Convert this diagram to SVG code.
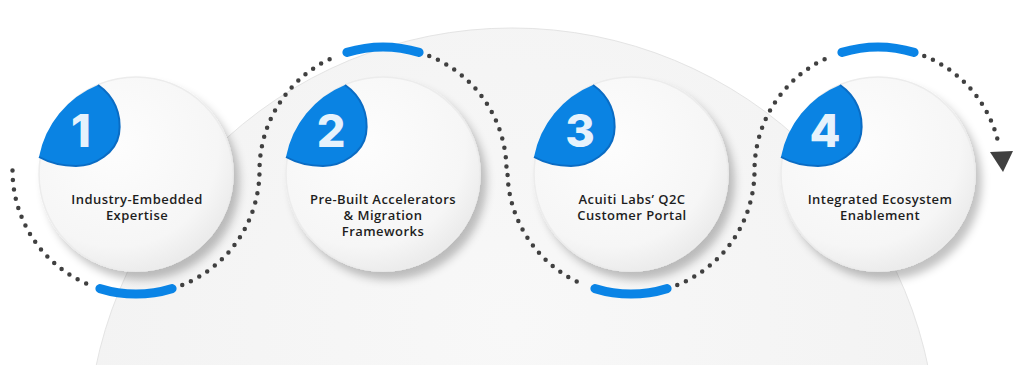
<svg xmlns="http://www.w3.org/2000/svg" width="1024" height="365" viewBox="0 0 1024 365">
  <defs>
    <radialGradient id="globeGrad" cx="0.5" cy="0.35" r="0.6">
      <stop offset="0" stop-color="#f8f8f8"/>
      <stop offset="1" stop-color="#f2f2f2"/>
    </radialGradient>
    <radialGradient id="discGrad" cx="0.4" cy="0.35" r="0.7">
      <stop offset="0" stop-color="#fdfdfd"/>
      <stop offset="0.75" stop-color="#f6f6f6"/>
      <stop offset="1" stop-color="#e9e9e9"/>
    </radialGradient>
    <filter id="discShadow" x="-30%" y="-30%" width="170%" height="170%">
      <feDropShadow dx="6" dy="8" stdDeviation="4" flood-color="#000" flood-opacity="0.24"/>
    </filter>
    <g id="disc">
      <circle r="97" fill="url(#discGrad)" stroke="#ececec" stroke-width="1.5" filter="url(#discShadow)"/>
      <path class="cap" d="M -38 -89 C -22 -78 -14 -60 -17 -40 C -20 -22 -40 -8 -60 -8 C -75 -8 -88 -12 -97 -17 A 97 97 0 0 1 -38 -89 Z"/>
      <path class="capEdge" d="M -38 -89 C -22 -78 -14 -60 -17 -40 C -20 -22 -40 -8 -60 -8 C -75 -8 -88 -12 -97 -17"/>
    </g>
  </defs>
  <style>
    .cap { fill: #0a83e3; }
    .capEdge { fill: none; stroke: #0a6cc4; stroke-width: 2; }
    .num { font-family: Inter, "Open Sans", sans-serif; font-weight: 800; font-size: 45px; fill: #e6f2fc; text-anchor: middle; }
    .label { font-family: "Open Sans", "Liberation Sans", sans-serif; font-weight: 600; font-size: 13px; letter-spacing: 0.45px; fill: #1e1e1e; text-anchor: middle; }
    .dots { fill: none; stroke: #404040; stroke-width: 4.5; stroke-linecap: round; stroke-dasharray: 0 9.5; }
    .blue { fill: none; stroke: #0a84e6; stroke-width: 9; stroke-linecap: round; }
  </style>

  <!-- background globe -->
  <circle cx="512" cy="453" r="425" fill="url(#globeGrad)" stroke="#e4e4e4" stroke-width="1"/>

  <g id="connectors">
    <path class="dots" d="M 12.5 170.5 A 123.5 123.5 0 0 0 89.74 285.01"/>
    <path class="blue" d="M 99.89 288.6 A 123.5 123.5 0 0 0 172.11 288.6"/>
    <path class="dots" d="M 182.26 285.01 A 123.5 123.5 0 0 0 259.5 170.5 A 123.5 123.5 0 0 1 336.74 55.99"/>
    <path class="blue" d="M 346.89 52.4 A 123.5 123.5 0 0 1 419.11 52.4"/>
    <path class="dots" d="M 429.26 55.99 A 123.5 123.5 0 0 1 506.5 170.5 L 507.5 170.5 A 123.5 123.5 0 0 0 584.74 285.01"/>
    <path class="blue" d="M 594.89 288.6 A 123.5 123.5 0 0 0 667.11 288.6"/>
    <path class="dots" d="M 677.26 285.01 A 123.5 123.5 0 0 0 754.5 170.5 A 123.5 123.5 0 0 1 831.74 55.99"/>
    <path class="blue" d="M 841.89 52.4 A 123.5 123.5 0 0 1 914.11 52.4"/>
    <path class="dots" d="M 924.26 55.99 A 123.5 123.5 0 0 1 998.8 144.8"/>
    <polygon points="990,152 1013,151 1003,172" fill="#404040"/>
  </g>

  <g id="node-1" transform="translate(136,174)">
    <use href="#disc"/>
    <text class="num" x="-55" y="-27">1</text>
    <text class="label" x="1" y="30">Industry-Embedded</text>
    <text class="label" x="1" y="46">Expertise</text>
  </g>

  <g id="node-2" transform="translate(383,174)">
    <use href="#disc"/>
    <text class="num" x="-52" y="-27">2</text>
    <text class="label" x="0" y="30">Pre-Built Accelerators</text>
    <text class="label" x="0" y="46">&amp; Migration</text>
    <text class="label" x="0" y="62">Frameworks</text>
  </g>

  <g id="node-3" transform="translate(631,174)">
    <use href="#disc"/>
    <text class="num" x="-51" y="-27">3</text>
    <text class="label" x="1" y="30">Acuiti Labs’ Q2C</text>
    <text class="label" x="1" y="46">Customer Portal</text>
  </g>

  <g id="node-4" transform="translate(878,174)">
    <use href="#disc"/>
    <text class="num" x="-53" y="-27">4</text>
    <text class="label" x="2" y="30">Integrated Ecosystem</text>
    <text class="label" x="2" y="46">Enablement</text>
  </g>
</svg>
